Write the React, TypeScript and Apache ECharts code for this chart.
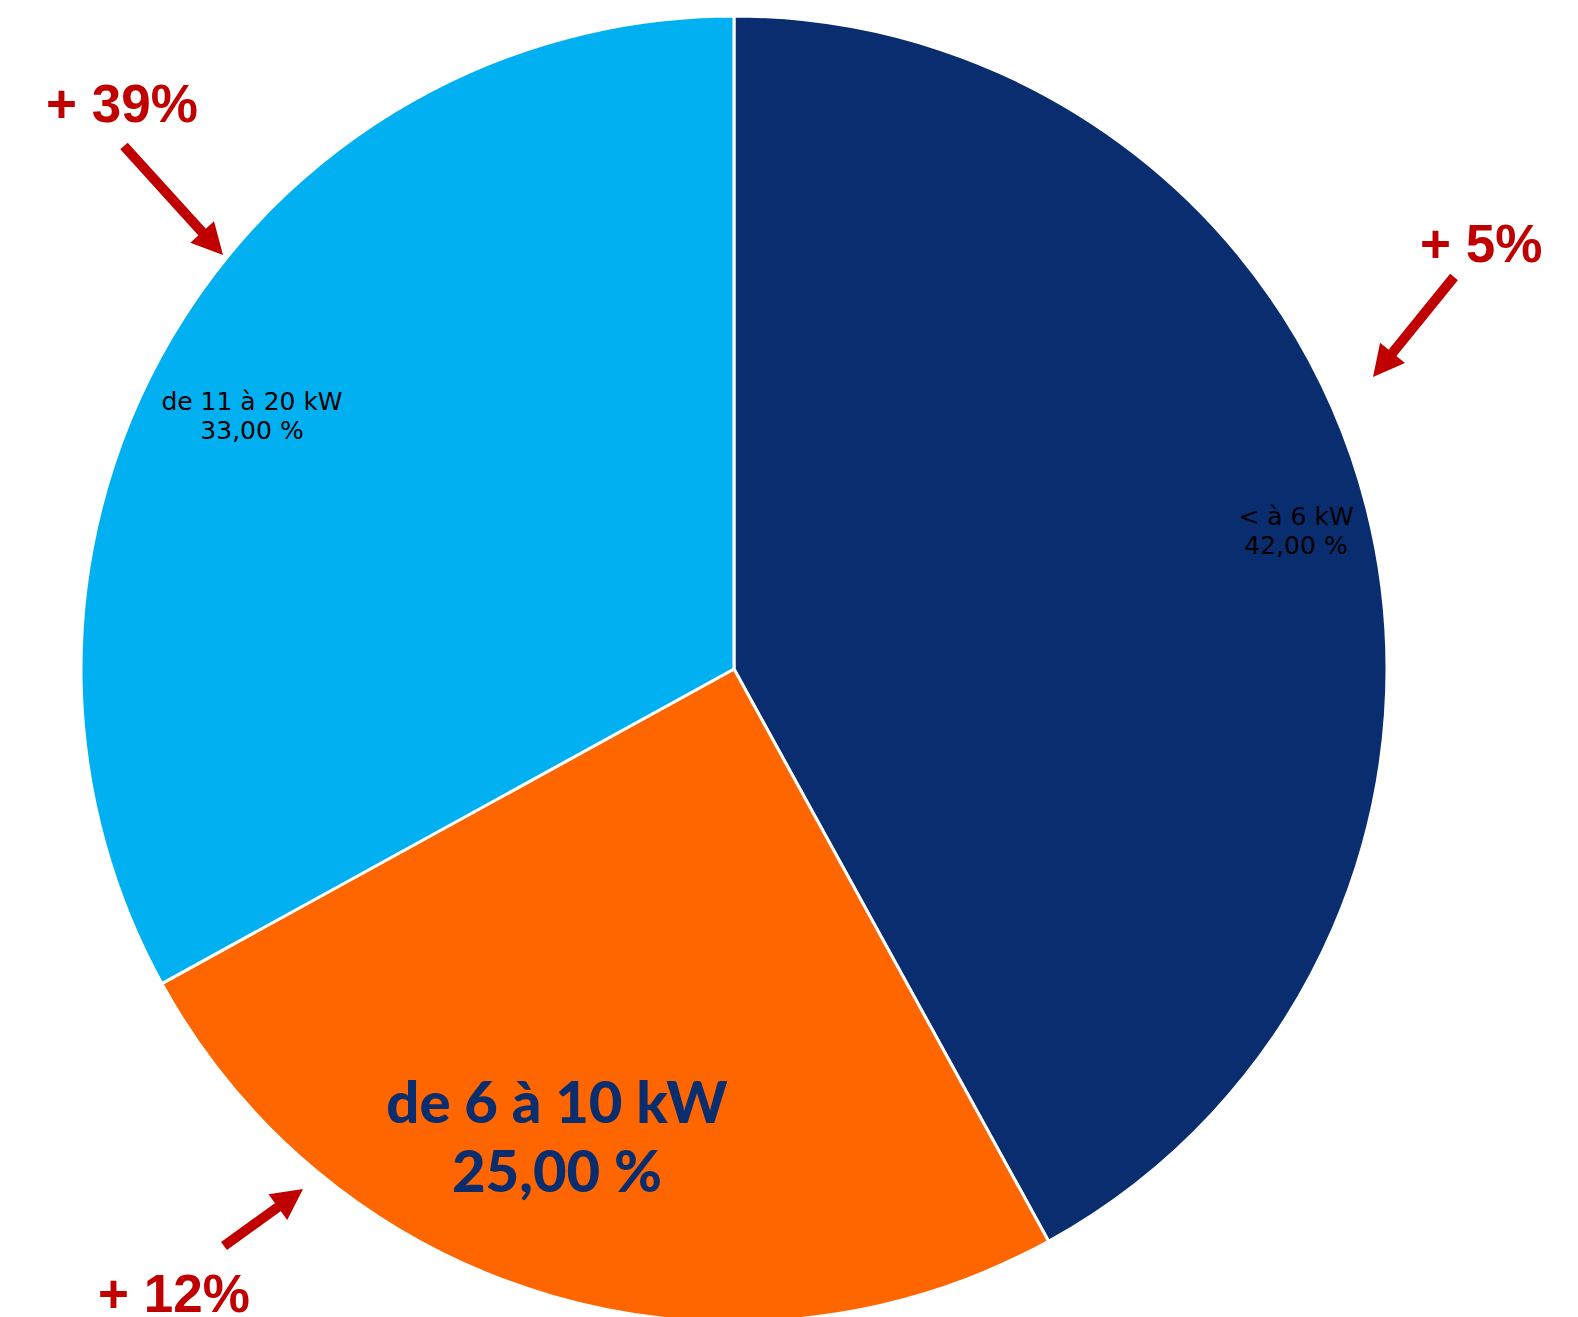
import React, { useEffect, useRef } from "react";
import * as echarts from "echarts";

const categories = ["< à 6 kW", "de 6 à 10 kW", "de 11 à 20 kW"];
const shares = [42, 25, 33];
const colors = ["#092d6e", "#ff6600", "#00b0f0"];
const growthLabels = ["+ 5%", "+ 12%", "+ 39%"];

// layout (pixels)
const CENTER = [734, 669];
const RADIUS = 653;
const labelCenters = [
  [1296, 531],
  [557, 1135],
  [252, 416],
];
const arrows = [
  { tail: [1454, 277], tip: [1373, 377] },
  { tail: [224, 1246], tip: [303, 1189] },
  { tail: [124, 146], tip: [223, 255] },
];
// left x, text-box bottom y
const growthPos = [
  [1420, 270],
  [98, 1320],
  [46, 130],
];

function fmt(v: number) {
  return v.toFixed(2).replace(".", ",") + " %";
}

function arrowGraphics(tail: number[], tip: number[]) {
  const dx = tip[0] - tail[0];
  const dy = tip[1] - tail[1];
  const len = Math.sqrt(dx * dx + dy * dy);
  const ux = dx / len;
  const uy = dy / len;
  const headLen = 31;
  const headHalf = 16;
  const bx = tip[0] - ux * headLen;
  const by = tip[1] - uy * headLen;
  const px = -uy;
  const py = ux;
  return [
    {
      type: "line",
      shape: { x1: tail[0], y1: tail[1], x2: bx + ux * 2, y2: by + uy * 2 },
      style: { stroke: "#c00000", lineWidth: 10 },
    },
    {
      type: "polygon",
      shape: {
        points: [
          [tip[0], tip[1]],
          [bx + px * headHalf, by + py * headHalf],
          [bx - px * headHalf, by - py * headHalf],
        ],
      },
      style: { fill: "#c00000" },
    },
  ];
}

export default function App() {
  const ref = useRef<HTMLDivElement>(null);
  useEffect(() => {
    document.body.style.margin = "0";
    document.documentElement.style.overflow = "hidden";
    document.body.style.overflow = "hidden";
    if (!ref.current) return;
    const chart = echarts.init(ref.current, undefined, { renderer: "svg" });
    const smallLabel = {
      fontFamily: "DejaVu Sans",
      fontSize: 25,
      lineHeight: 29,
      color: "#000000",
    };
    const bigLabel = {
      fontFamily: "Lato, 'DejaVu Sans Condensed', sans-serif",
      fontWeight: 900,
      fontSize: 58,
      lineHeight: 69,
      color: "#0a2d6e",
    };
    const data = categories.map((name, i) => ({
      name,
      value: shares[i],
      itemStyle: { color: colors[i] },
      label: i === 1 ? bigLabel : smallLabel,
    }));
    const graphics: any[] = [];
    arrows.forEach((a) => graphics.push(...arrowGraphics(a.tail, a.tip)));
    growthLabels.forEach((t, i) => {
      graphics.push({
        type: "text",
        x: growthPos[i][0],
        y: growthPos[i][1],
        style: {
          text: t,
          fill: "#c00000",
          font: "bold 53px 'Liberation Sans', Arial, sans-serif",
          verticalAlign: "bottom",
        },
      });
    });
    chart.setOption({
      animation: false,
      backgroundColor: "#ffffff",
      series: [
        {
          type: "pie",
          center: CENTER,
          radius: RADIUS,
          startAngle: 90,
          clockwise: true,
          silent: true,
          itemStyle: { borderColor: "#ffffff", borderWidth: 3 },
          label: {
            show: true,
            position: "inside",
            formatter: (p: any) => p.name + "\n" + fmt(p.value),
          },
          labelLine: { show: false },
          labelLayout: (params: any) => ({
            x: labelCenters[params.dataIndex][0],
            y: labelCenters[params.dataIndex][1],
          }),
          data,
        },
      ],
      graphic: graphics,
    });
    return () => chart.dispose();
  }, []);
  return (
    <div
      ref={ref}
      style={{ position: "absolute", left: 0, top: 0, width: 1578, height: 1317 }}
    />
  );
}
